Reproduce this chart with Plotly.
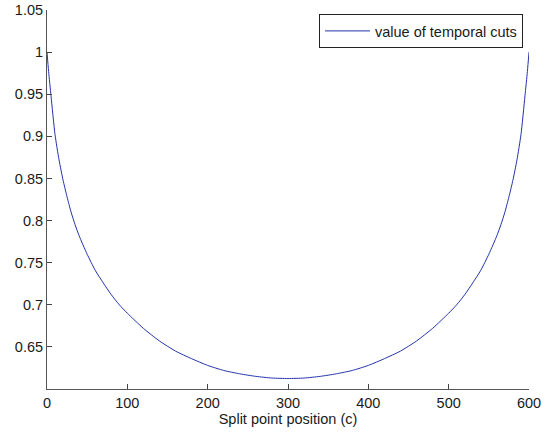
import plotly.graph_objects as go

# Split point positions (left half, right half mirrored reading)
c_left = [0, 2, 5, 10, 15, 20, 25, 30, 35, 40, 50, 60, 70, 80, 90, 100,
          120, 140, 160, 180, 200, 220, 240, 260, 280, 300]
v_left = [1.0, 0.977, 0.948, 0.902, 0.872, 0.848, 0.828, 0.810, 0.795, 0.782,
          0.760, 0.741, 0.726, 0.712, 0.700, 0.690, 0.672, 0.657, 0.645, 0.636,
          0.628, 0.622, 0.618, 0.615, 0.613, 0.6125]

c_right = [320, 340, 360, 380, 400, 420, 440, 460, 480, 500, 510, 520, 530,
           540, 550, 560, 565, 570, 575, 580, 585, 590, 595, 598, 600]
v_right = [0.613, 0.615, 0.618, 0.622, 0.628, 0.636, 0.645, 0.657, 0.672,
           0.690, 0.700, 0.712, 0.726, 0.741, 0.760, 0.782, 0.795, 0.810,
           0.828, 0.848, 0.872, 0.902, 0.948, 0.977, 1.0]

x_ticks = [0, 100, 200, 300, 400, 500, 600]
y_ticks = [0.65, 0.7, 0.75, 0.8, 0.85, 0.9, 0.95, 1.0, 1.05]
y_ticklabels = ["0.65", "0.7", "0.75", "0.8", "0.85", "0.9", "0.95", "1", "1.05"]

xs = c_left + c_right
vs = v_left + v_right

font = "Liberation Sans, Arial, Helvetica, sans-serif"

fig = go.Figure()
fig.add_trace(go.Scatter(
    x=xs, y=vs, mode="lines", name="value of temporal cuts",
    line=dict(color="#2233aa", width=1, shape="spline", smoothing=0.6),
))

fig.update_layout(
    width=554, height=437,
    margin=dict(l=47, r=25, t=10, b=48, autoexpand=False),
    paper_bgcolor="white", plot_bgcolor="white",
    font=dict(family=font, size=14.5, color="#1a1a1a"),
    showlegend=True,
    legend=dict(
        x=0.9876, y=0.9895, xanchor="right", yanchor="top",
        bgcolor="white", bordercolor="#222222", borderwidth=1,
        font=dict(family=font, size=14.5, color="#1a1a1a"),
        itemwidth=45,
    ),
)

fig.update_xaxes(
    range=[0, 600], tickvals=x_ticks, ticks="inside", ticklen=5,
    tickcolor="#444444", showline=True, linecolor="#555555", linewidth=1,
    showgrid=False, zeroline=False, mirror=False, automargin=False,
    ticklabelstandoff=1,
    title=dict(text="Split point position (c)", standoff=3,
               font=dict(family=font, size=14.5, color="#1a1a1a")),
)
fig.update_yaxes(
    range=[0.6, 1.05], tickvals=y_ticks, ticktext=y_ticklabels,
    ticks="inside", ticklen=5, tickcolor="#444444",
    showline=True, linecolor="#555555", linewidth=1,
    showgrid=False, zeroline=False, mirror=False, automargin=False,
)

fig.write_html("out.html")
